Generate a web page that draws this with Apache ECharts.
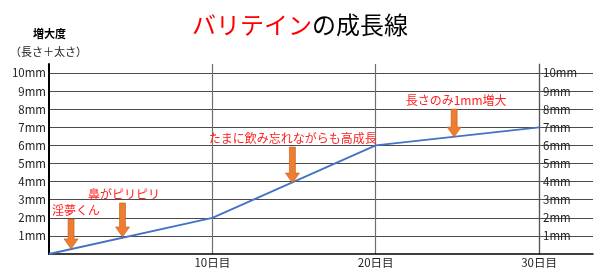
<!DOCTYPE html>
<html><head><meta charset="utf-8">
<script src="https://cdn.jsdelivr.net/npm/echarts@6/dist/echarts.min.js"></script>
<style>html,body{margin:0;padding:0;background:#fff}#c{width:600px;height:278px}</style>
</head><body><div id="c"></div>
<script>
// Data
const days = [0, 10, 20, 30];
const growth = [0, 2, 6, 7];
const xTicks = [10, 20, 30];
const yTicks = [1, 2, 3, 4, 5, 6, 7, 8, 9, 10];
// Annotations: arrow x, arrow tip value, arrow top value, text x, text
const annX = [1.35, 4.5, 14.9, 24.8];
const annTip = [0.28, 0.94, 3.92, 6.46];
const annTop = [1.93, 2.82, 5.91, 8.01];
const annTextX = [1.65, 4.59, 14.92, 24.92];
const annText = ['淫夢くん', '鼻がピリピリ', 'たまに飲み忘れながらも高成長', '長さのみ1mm増大'];

const FONT = '"Noto Sans CJK JP", "Noto Sans", sans-serif';
const chart = echarts.init(document.getElementById('c'), null, {renderer: 'canvas'});
const annData = annX.map((x, i) => [x, annTip[i], annTop[i], annTextX[i], i]);

chart.setOption({
  animation: false,
  backgroundColor: '#fff',
  title: {
    text: '{r|バリテイン}{k|の成長線}',
    left: 'center', top: 8,
    textStyle: {fontWeight: 'normal', rich: {
      r: {color: '#ff0000', fontSize: 24, fontWeight: 'normal', fontFamily: FONT},
      k: {color: '#000', fontSize: 24, fontWeight: 'normal', fontFamily: FONT}
    }}
  },
  graphic: [
    {type: 'text', left: 33, top: 28, style: {text: '増大度', font: 'bold 11px ' + FONT, fill: '#000'}},
    {type: 'text', left: 10, top: 46, style: {text: '（長さ＋太さ）', font: '11px ' + FONT, fill: '#222'}}
  ],
  grid: {left: 49, right: 7, top: 64, bottom: 24},
  xAxis: {
    type: 'value', min: 0, max: 33.3, interval: 10,
    axisLine: {show: true, lineStyle: {color: '#000', width: 1.5}},
    axisTick: {show: false},
    axisLabel: {
      color: '#222', fontSize: 11.5, fontFamily: FONT, margin: 3,
      formatter: v => xTicks.includes(v) ? v + '日目' : ''
    },
    splitLine: {show: true, showMinLine: false, showMaxLine: false, lineStyle: {color: '#6f6f6f', width: 1.2}}
  },
  yAxis: [
    {
      type: 'value', min: 0, max: 10.5, interval: 1, position: 'left',
      axisLine: {show: true, lineStyle: {color: '#000', width: 2}},
      axisTick: {show: false},
      axisLabel: {
        color: '#222', fontSize: 11.5, fontFamily: FONT, margin: 3,
        formatter: v => yTicks.includes(v) ? v + 'mm' : ''
      },
      splitLine: {show: true, showMinLine: false, showMaxLine: false, lineStyle: {color: '#4a4a4a', width: 1.2}}
    },
    {
      type: 'value', min: 0, max: 10.5, interval: 1, position: 'right', offset: -54,
      axisLine: {show: true, lineStyle: {color: '#555', width: 1.2}},
      axisTick: {show: true, length: 3, inside: false, customValues: yTicks, lineStyle: {color: '#555'}},
      axisLabel: {
        color: '#222', fontSize: 11.5, fontFamily: FONT, margin: 4, customValues: yTicks,
        formatter: v => yTicks.includes(v) ? v + 'mm' : ''
      },
      splitLine: {show: false}
    }
  ],
  series: [
    {
      type: 'line', data: days.map((d, i) => [d, growth[i]]),
      showSymbol: false, symbol: 'none',
      lineStyle: {color: '#4472c4', width: 1.8}, z: 3
    },
    {
      type: 'custom', data: annData, z: 5,
      renderItem: function (params, api) {
        const tip = api.coord([api.value(0), api.value(1)]);
        const top = api.coord([api.value(0), api.value(2)]);
        const tx = api.coord([api.value(3), api.value(2)]);
        const idx = api.value(4);
        const x = tip[0], ty = tip[1], t = top[1];
        const sw = 3, hw = 7, hh = 10;
        return {
          type: 'group',
          children: [
            {
              type: 'polygon',
              shape: {points: [
                [x - sw, t], [x + sw, t], [x + sw, ty - hh], [x + hw, ty - hh],
                [x, ty], [x - hw, ty - hh], [x - sw, ty - hh]
              ]},
              style: {fill: '#ed7d31', stroke: '#c55a11', lineWidth: 0.6}
            },
            {
              type: 'text',
              x: tx[0], y: t - 9,
              style: {
                text: annText[idx], fill: '#ff2020',
                font: '12px ' + FONT, align: 'center', verticalAlign: 'middle'
              }
            }
          ]
        };
      }
    }
  ]
});
</script></body></html>
